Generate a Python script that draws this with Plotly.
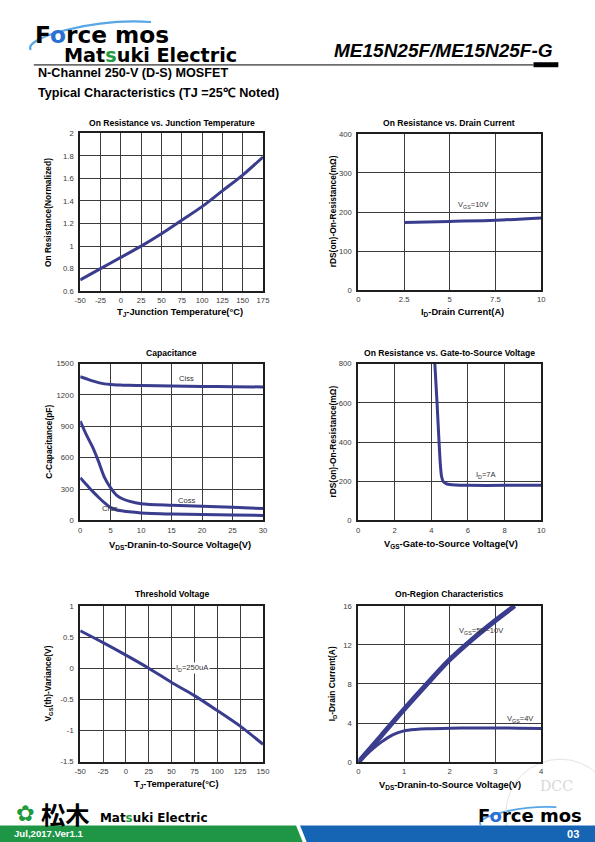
import plotly.graph_objects as go

# ---------------- data ----------------
# 1. On Resistance vs. Junction Temperature
tj1 = [-50, -25, 0, 25, 50, 75, 100, 125, 150, 175]
ron_norm = [0.70, 0.80, 0.90, 1.00, 1.11, 1.23, 1.35, 1.49, 1.63, 1.79]
tj1_ticks = [-50, -25, 0, 25, 50, 75, 100, 125, 150, 175]
tj1_ticktext = ["-50", "-25", "0", "25", "50", "75", "100", "125", "150", "175"]
ron_ticks = [0.6, 0.8, 1.0, 1.2, 1.4, 1.6, 1.8, 2.0]
ron_ticktext = ["0.6", "0.8", "1", "1.2", "1.4", "1.6", "1.8", "2"]

# 2. On Resistance vs. Drain Current
id2 = [2.5, 5, 7.5, 10]
rds2 = [173, 176, 179, 185]
id2_ticks = [0, 2.5, 5, 7.5, 10]
id2_ticktext = ["0", "2.5", "5", "7.5", "10"]
rds2_ticks = [0, 100, 200, 300, 400]
rds2_ticktext = ["0", "100", "200", "300", "400"]

# 3. Capacitance
vds3 = [0, 1, 2, 3, 4, 5, 6, 7, 8, 10, 15, 20, 25, 30]
ciss = [1375, 1355, 1335, 1318, 1306, 1300, 1296, 1294, 1292, 1290, 1285, 1282, 1279, 1277]
coss = [950, 820, 705, 565, 410, 312, 240, 205, 185, 160, 145, 135, 125, 113]
crss = [408, 344, 280, 222, 168, 122, 100, 90, 82, 72, 62, 56, 51, 48]
vds3_ticks = [0, 5, 10, 15, 20, 25, 30]
vds3_ticktext = ["0", "5", "10", "15", "20", "25", "30"]
cap_ticks = [0, 300, 600, 900, 1200, 1500]
cap_ticktext = ["0", "300", "600", "900", "1200", "1500"]

# 4. On Resistance vs. Gate-to-Source Voltage
vgs4 = [4.19, 4.31, 4.42, 4.48, 4.55, 4.65, 4.85, 5.3, 6, 8, 10]
rds4 = [800, 600, 400, 300, 228, 198, 186, 181, 179, 179, 180]
vgs4_ticks = [0, 2, 4, 6, 8, 10]
vgs4_ticktext = ["0", "2", "4", "6", "8", "10"]
rds4_ticks = [0, 200, 400, 600, 800]
rds4_ticktext = ["0", "200", "400", "600", "800"]

# 5. Threshold Voltage
tj5 = [-50, -25, 0, 25, 50, 75, 100, 125, 150]
vth_var = [0.60, 0.41, 0.21, 0.00, -0.23, -0.44, -0.68, -0.93, -1.22]
tj5_ticks = [-50, -25, 0, 25, 50, 75, 100, 125, 150]
tj5_ticktext = ["-50", "-25", "0", "25", "50", "75", "100", "125", "150"]
vth_ticks = [-1.5, -1, -0.5, 0, 0.5, 1]
vth_ticktext = ["-1.5", "-1", "-0.5", "0", "0.5", "1"]

# 6. On-Region Characteristics
vds6_hi = [0, 0.5, 1, 1.5, 2, 2.5, 3, 3.42]
id6_hi = [0, 2.7, 5.4, 8.0, 10.5, 12.6, 14.5, 16.0]
vds6_4v = [0, 0.25, 0.5, 0.75, 1, 1.25, 1.5, 2, 2.5, 3, 3.5, 4]
id6_4v = [0, 1.1, 2.05, 2.8, 3.2, 3.35, 3.42, 3.48, 3.5, 3.5, 3.48, 3.45]
vds6_ticks = [0, 1, 2, 3, 4]
vds6_ticktext = ["0", "1", "2", "3", "4"]
id6_ticks = [0, 4, 8, 12, 16]
id6_ticktext = ["0", "4", "8", "12", "16"]

# ---------------- layout helpers ----------------
# page target is 595 x 842; the figure is drawn slightly larger and all
# pixel positions are mapped so that the photographed page lines up.
FW, FH = 603, 850
OX, OY, SX, SY = 2.0, 4.0, 0.9866, 0.9905
FS = 1 / 0.9885  # font compensation
FONT = "Liberation Sans, Arial, sans-serif"
LOGO = "DejaVu Sans, Verdana, sans-serif"
NAVY = "#3a3d8e"


def px(x):
    return ((x - OX) / SX) / FW


def py(y):
    return 1 - ((y - OY) / SY) / FH


def path(points):
    s = "M " + " L ".join(f"{px(x):.5f},{py(y):.5f}" for x, y in points)
    return s + " Z"


boxes = {  # pixel boxes on the page: left, right, top, bottom
    1: (76.7, 260.7, 133.5, 291.5),
    2: (356.7, 540.7, 134.0, 290.5),
    3: (76.7, 260.7, 364.0, 521.0),
    4: (356.5, 540.7, 364.0, 521.0),
    5: (76.7, 260.7, 606.5, 762.5),
    6: (356.7, 540.7, 606.5, 763.0),
}

axes_spec = {
    1: ([-50, 175], tj1_ticks, tj1_ticktext, [0.6, 2.0], ron_ticks, ron_ticktext),
    2: ([0, 10], id2_ticks, id2_ticktext, [0, 400], rds2_ticks, rds2_ticktext),
    3: ([0, 30], vds3_ticks, vds3_ticktext, [0, 1500], cap_ticks, cap_ticktext),
    4: ([0, 10], vgs4_ticks, vgs4_ticktext, [0, 800], rds4_ticks, rds4_ticktext),
    5: ([-50, 150], tj5_ticks, tj5_ticktext, [-1.5, 1], vth_ticks, vth_ticktext),
    6: ([0, 4], vds6_ticks, vds6_ticktext, [0, 16], id6_ticks, id6_ticktext),
}


def axis(dom, rng, tv, tt, anchor, ticklen):
    return dict(
        domain=dom, range=rng, tickvals=tv, ticktext=tt, anchor=anchor,
        showgrid=True, gridcolor="#3c3c3c", gridwidth=1.3, zeroline=False,
        showline=True, linecolor="#1e1e1e", linewidth=2, mirror=True,
        ticks="outside", ticklen=ticklen, tickcolor="rgba(0,0,0,0)",
        tickfont=dict(family=FONT, size=7.6 * FS, color="#3a3a3a"), fixedrange=True,
    )


fig = go.Figure()
layout = dict(
    width=FW, height=FH, margin=dict(l=0, r=0, t=0, b=0), autosize=False,
    paper_bgcolor="white", plot_bgcolor="white", showlegend=False,
)

for k, (l, r, t, b) in boxes.items():
    xr, xtv, xtt, yr, ytv, ytt = axes_spec[k]
    suffix = "" if k == 1 else str(k)
    layout["xaxis" + suffix] = axis([px(l), px(r)], xr, xtv, xtt, "y" + suffix, 1)
    layout["yaxis" + suffix] = axis([py(b), py(t)], yr, ytv, ytt, "x" + suffix, 3)

fig.update_layout(**layout)


def line(x, y, k, width=3, smoothing=0.8):
    suffix = "" if k == 1 else str(k)
    fig.add_trace(go.Scatter(
        x=x, y=y, xaxis="x" + suffix, yaxis="y" + suffix, mode="lines",
        line=dict(color=NAVY, width=width, shape="spline", smoothing=smoothing),
        hoverinfo="skip", showlegend=False))


line(tj1, ron_norm, 1)
line(id2, rds2, 2)
line(vds3, ciss, 3)
line(vds3, coss, 3)
line(vds3, crss, 3)
line(vgs4, rds4, 4, smoothing=0.5)
line(tj5, vth_var, 5)
line(vds6_hi, id6_hi, 6, width=5)
line(vds6_4v, id6_4v, 6)

ann = []


def txt(x, y, text, size, color="#000", xanchor="center", angle=0, family=FONT, bg=None):
    d = dict(x=px(x), y=py(y), xref="paper", yref="paper", text=text, showarrow=False,
             xanchor=xanchor, yanchor="middle", textangle=angle,
             font=dict(family=family, size=size * FS, color=color))
    if bg:
        d["bgcolor"] = bg
    ann.append(d)


def dtxt(k, x, y, text, size=7.5, bg=None):
    suffix = "" if k == 1 else str(k)
    d = dict(x=x, y=y, xref="x" + suffix, yref="y" + suffix, text=text, showarrow=False,
             xanchor="center", yanchor="middle",
             font=dict(family=FONT, size=size * FS, color="#333"))
    if bg:
        d["bgcolor"] = bg
        d["borderpad"] = 0
    ann.append(d)


# chart titles
TS = 8.5
txt(169, 123, "<b>On Resistance vs. Junction Temperature</b>", TS)
txt(448, 123, "<b>On Resistance vs. Drain Current</b>", TS)
txt(169, 353.5, "<b>Capacitance</b>", TS)
txt(448, 353.5, "<b>On Resistance vs. Gate-to-Source Voltage</b>", TS)
txt(169, 594.5, "<b>Threshold Voltage</b>", TS)
txt(448, 594.5, "<b>On-Region Characteristics</b>", TS)

# x axis titles
XS = 9.2
txt(177.5, 313, "<b>T<sub>J</sub>-Junction Temperature(°C)</b>", XS)
txt(461.5, 313, "<b>I<sub>D</sub>-Drain Current(A)</b>", XS)
txt(177.5, 546.5, "<b>V<sub>DS</sub>-Dranin-to-Source Voltage(V)</b>", XS)
txt(450, 545.5, "<b>V<sub>GS</sub>-Gate-to-Source Voltage(V)</b>", XS)
txt(173.5, 785, "<b>T<sub>J</sub>-Temperature(°C)</b>", XS)
txt(449, 786.5, "<b>V<sub>DS</sub>-Dranin-to-Source Voltage(V)</b>", XS)

# y axis titles
YS = 8.3
txt(45, 212.5, "<b>On Resistance(Normalized)</b>", YS, angle=-90)
txt(330.7, 212, "<b>rDS(on)-On-Resistance(mΩ)</b>", YS, angle=-90)
txt(45, 442.5, "<b>C-Capacitance(pF)</b>", YS, angle=-90)
txt(330.7, 442.5, "<b>rDS(on)-On-Resistance(mΩ)</b>", YS, angle=-90)
txt(45, 684.5, "<b>V<sub>GS</sub>(th)-Variance(V)</b>", YS, angle=-90)
txt(330.7, 684.5, "<b>I<sub>D</sub>-Drain Current(A)</b>", YS, angle=-90)

# in-plot labels
dtxt(2, 6.3, 218, "V<sub>GS</sub>=10V")
dtxt(3, 17.5, 1357, "Ciss")
dtxt(3, 17.5, 191, "Coss")
dtxt(3, 4.9, 112, "Crss")
dtxt(4, 7.03, 231, "I<sub>D</sub>=7A")
dtxt(5, 72.4, 0, "I<sub>D</sub>=250uA", bg="white")
dtxt(6, 2.70, 13.4, "V<sub>GS</sub>=5V~10V")
dtxt(6, 3.54, 4.4, "V<sub>GS</sub>=4V")

# header
txt(29, 34.5, "<b>F<span style='color:#2b6fd3'>o</span>rce mos</b>", 23, family=LOGO, xanchor="left")
txt(58, 55.5, "<b>Mat<span style='color:#1f9a3c'>s</span>uki Electric</b>", 19, family=LOGO, xanchor="left")
txt(330, 50.5, "<b><i>ME15N25F/ME15N25F-G</i></b>", 18.8, xanchor="left")
txt(32, 73.5, "<b>N-Channel 250-V (D-S) MOSFET</b>", 12.5, xanchor="left")
txt(32, 93, "<b>Typical Characteristics (TJ =25℃ Noted)</b>", 12.5, xanchor="left")

# footer
txt(8, 834.5, "<b>Jul,2017.Ver1.1</b>", 9.5, color="white", xanchor="left")
txt(581, 834.5, "<b>03</b>", 11, color="white", xanchor="right")
txt(95, 819, "<b>Mat<span style='color:#1f9a3c'>s</span>uki Electric</b>", 11.8, family=LOGO, xanchor="left")
txt(475, 816.5, "<b>F<span style='color:#2b6fd3'>o</span>rce mos</b>", 17.8, family=LOGO, xanchor="left")
txt(22, 814, "✿", 22, color="#1f9a3c", family="DejaVu Sans")
txt(35, 814, "<b>松木</b>", 24, family="Noto Sans CJK JP", xanchor="left")
txt(556, 787, "DCC", 14, color="#d8d8d8", family="DejaVu Serif")

fig.update_layout(annotations=ann)


def seg(x0, y0, x1, y1):
    return dict(x0=px(x0), x1=px(x1), y0=py(y0), y1=py(y1))


shapes = [
    # header rule and tab
    dict(type="line", xref="paper", yref="paper", **seg(30, 65, 533, 65),
         line=dict(color="black", width=1)),
    dict(type="rect", xref="paper", yref="paper", **seg(533, 67.3, 558, 62.3),
         fillcolor="black", line=dict(width=0)),
    # logo swoosh header
    dict(type="path", xref="paper", yref="paper",
         path=f"M {px(27):.5f},{py(50):.5f} C {px(18):.5f},{py(38):.5f} {px(90):.5f},{py(18):.5f} {px(148):.5f},{py(22):.5f}",
         line=dict(color="#58a6e6", width=2.2), layer="below"),
    # footer bands
    dict(type="path", xref="paper", yref="paper",
         path=path([(-5, 826.5), (294, 826.5), (303.5, 850), (-5, 850)]),
         fillcolor="#1e9646", line=dict(width=0)),
    dict(type="path", xref="paper", yref="paper",
         path=path([(298, 826.5), (605, 826.5), (605, 850), (307.5, 850)]),
         fillcolor="#1565b4", line=dict(width=0)),
    # footer swoosh
    dict(type="path", xref="paper", yref="paper",
         path=f"M {px(480):.5f},{py(826):.5f} C {px(472):.5f},{py(818):.5f} {px(520):.5f},{py(806):.5f} {px(556):.5f},{py(808):.5f}",
         line=dict(color="#58a6e6", width=1.8), layer="below"),
    # watermark circle
    dict(type="circle", xref="paper", yref="paper", **seg(505, 870, 615, 760),
         line=dict(color="#e3e3e3", width=1), layer="below"),
]
fig.update_layout(shapes=shapes)

fig.write_html(
    "out.html",
    config={"displayModeBar": False, "responsive": False},
    post_script=(
        "document.documentElement.style.margin='0px';document.documentElement.style.padding='0px';"
        "document.documentElement.style.overflow='hidden';"
        "document.body.style.margin='0px';document.body.style.padding='0px';document.body.style.overflow='hidden';"
    ),
)
